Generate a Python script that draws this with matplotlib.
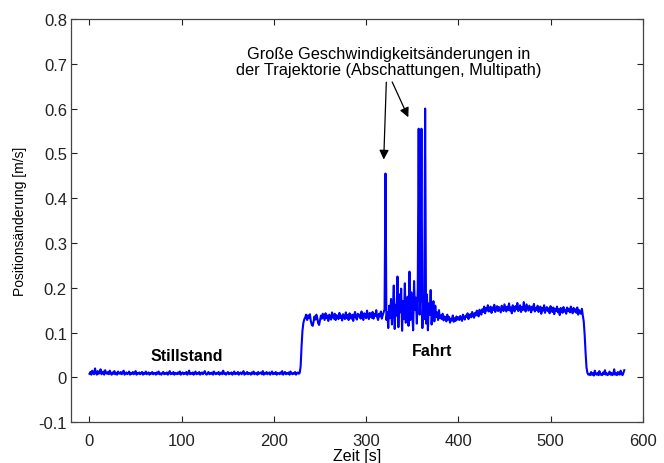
import numpy as np
import matplotlib
matplotlib.use("Agg")
import matplotlib.pyplot as plt

plt.rcParams['font.family'] = ['Liberation Sans', 'DejaVu Sans']

# values in thousandths of m/s, one sample per second starting at t=0
stillstand = [8,12,6,15,9,7,20,10,6,14,8,11,18,7,9,13,6,16,10,8,
              12,7,15,9,6,11,8,14,7,10,6,13,9,8,12,7,10,15,6,9,
              11,7,9,13,6,10,8,12,7,9,14,6,10,8,11,7,9,12,6,10,
              8,13,7,9,11,6,10,8,12,7,9,10,6,11,8,13,7,9,6,10,
              12,7,9,8,11,6,10,14,7,9,8,12,6,10,9,7,11,8,13,6,
              9,11,7,10,8,12,6,9,15,7,10,8,11,6,9,13,7,10,8,12,
              6,9,11,7,10,14,8,6,9,12,7,10,8,11,6,13,9,7,10,8,
              12,6,9,11,7,15,8,10,6,9,12,7,10,8,11,6,9,13,7,10,
              8,12,6,9,11,7,10,14,6,9,8,12,7,10,9,6,11,8,13,7,
              9,10,6,12,8,9,11,7,14,6,10,8,12,7,9,11,6,10,13,7,
              9,8,12,6,10,9,7,11,8,14,6,9,12,7,10,8,11,6,13,9,
              7,10,8,12,6,9,11,8,10]
anfahrt = [25,70,105,122,130]
fahrt_a = [134,140,128,138,132,141,126,118,115,124,136,129,140,133,121,117,127,138,131,142,
           135,128,143,132,138,126,140,134,129,145,137,131,142,128,139,135,130,144,133,138,
           127,141,136,130,145,132,139,128,143,135,131,140,126,138,146,133,129,142,136,140,
           131,147,135,128,143,138,132,149,136,130,144,139,133,146,131,141,137,150,134,128,
           142,136,147,131,139,145]
spitze_1 = [152,455,128,146,110,160,132]
stoerung = [175,118,150,205,108,162,138,225,112,185,145,198,104,170,130,210,122,155,180,115,
            236,128,190,142,105,215,150,178,120,200]
spitzen_2 = [555,140,190,555,110,175,130,600,120]
abklingen = [185,105,165,140,195,118,150,170,125,160,135,145,128,150,132]
fahrt_b = [138,130,142,127,136,133,125,140,129,135,122,131,127,138,124,132,126,136,129,134,
           128,137,131,126,140,133,129,138,135,143,130,137,141,134,146,139,133,144,138,149,
           142,136,151,145,140]
fahrt_c = [152,146,158,143,155,149,161,147,153,158,144,156,150,162,146,154,159,148,157,151,
           145,160,152,148,163,155,147,158,150,165,149,156,143,161,153,147,159,152,166,148,
           155,161,146,157,150,168,152,147,163,156,149,160,153,145,158,151,164,147,155,150,
           160,146,153,158,142,155,149,161,144,152,157,148,154,143,159,150,146,156,141,153,
           148,158,145,152,139,155,149,144,157,147,151,142,156,148,153,145,158,150,143,155,
           147,152,144,156,140,150,146,142,153,138]
bremsen = [125,95,55,22,10,6,8]
stillstand_2 = [5,12,6,9,4,15,7,6,10,5,14,6,8,5,11,7,16,6,9,5,
                8,13,6,10,5,7,18,6,9,5,12,7,6,15,8,5,10,16]

werte = np.array(stillstand + anfahrt + fahrt_a + spitze_1 + stoerung + spitzen_2 +
                 abklingen + fahrt_b + fahrt_c + bremsen + stillstand_2) / 1000.0
zeit = np.arange(len(werte))

x_ticks = [0, 100, 200, 300, 400, 500, 600]
y_ticks = [-0.1, 0, 0.1, 0.2, 0.3, 0.4, 0.5, 0.6, 0.7, 0.8]
y_ticklabels = ['-0.1', '0', '0.1', '0.2', '0.3', '0.4', '0.5', '0.6', '0.7', '0.8']

fig = plt.figure(figsize=(6.64, 4.64), dpi=100)
ax = fig.add_axes([0.107, 0.088, 0.861, 0.869])
ax.plot(zeit, werte, color='#0000ff', lw=1.5)
ax.set_xlim(-20, 600)
ax.set_ylim(-0.1, 0.8)
ax.set_xticks(x_ticks)
ax.set_yticks(y_ticks)
ax.set_yticklabels(y_ticklabels)
ax.tick_params(direction='in', top=True, right=True, length=4, labelsize=12,
               colors='#222222')
ax.tick_params(axis='y', pad=3)
ax.tick_params(axis='x', pad=8)
for sp in ax.spines.values():
    sp.set_color('#444444')
    sp.set_linewidth(0.9)
ax.set_xlabel('Zeit [s]', fontsize=11.5, labelpad=0)
ax.set_ylabel('Positionsänderung [m/s]', fontsize=10, labelpad=8)

ax.text(105, 0.048, 'Stillstand', fontsize=11.5, fontweight='bold', ha='center', va='center')
ax.text(371, 0.059, 'Fahrt', fontsize=11.5, fontweight='bold', ha='center', va='center')
ax.text(324, 0.705, 'Große Geschwindigkeitsänderungen in\nder Trajektorie (Abschattungen, Multipath)',
        fontsize=11.8, ha='center', va='center', linespacing=1.15)
ax.annotate('', xy=(319, 0.48), xytext=(322, 0.665),
            arrowprops=dict(arrowstyle='-|>', color='black', lw=0.9, mutation_scale=14))
ax.annotate('', xy=(347, 0.575), xytext=(327, 0.665),
            arrowprops=dict(arrowstyle='-|>', color='black', lw=0.9, mutation_scale=14))

fig.savefig('out.png', dpi=100)
